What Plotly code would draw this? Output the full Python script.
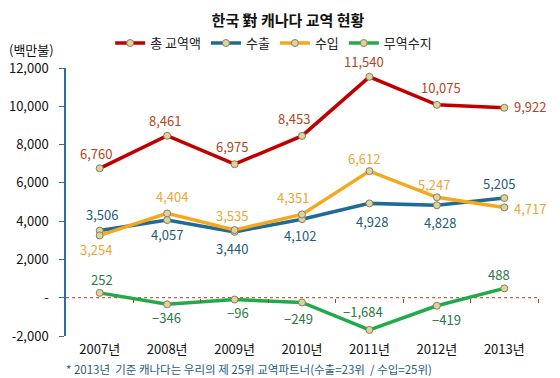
import plotly.graph_objects as go

years = ["2007년", "2008년", "2009년", "2010년", "2011년", "2012년", "2013년"]
total = [6760, 8461, 6975, 8453, 11540, 10075, 9922]
exports = [3506, 4057, 3440, 4102, 4928, 4828, 5205]
imports = [3254, 4404, 3535, 4351, 6612, 5247, 4717]
balance = [252, -346, -96, -249, -1684, -419, 488]
series_names = ["총 교역액", "수출", "수입", "무역수지"]
yticks = [-2000, 0, 2000, 4000, 6000, 8000, 10000, 12000]

FONT = "Noto Sans CJK KR, Noto Sans, sans-serif"

def fmt(v):
    return f"{v:,}".replace("-", "−")

def yfmt(v):
    return "-" if v == 0 else f"{v:,}"

line_colors = ["#C00000", "#1F6B96", "#F5A81C", "#22AA4A"]
label_colors = ["#B5451B", "#1F5C7A", "#EBA634", "#2B7A44"]
# label offsets (px): (dx right, dy down) from each point
label_offsets = [
    [(-4, -15), (-2, -15), (-3, -18), (-8, -17), (-5, -15), (4, -17), (26, -1)],
    [(2, -16), (0, 14), (-3, 17), (-2, 16), (3, 18), (3, 17), (-5, -15)],
    [(-4, 14), (5, -17), (-3, -15), (-9, -17), (-5, -13), (-3, -13), (26, 1)],
    [(2, -13), (-1, 13), (3, 13), (-4, 16), (-6, -18), (10, 14), (-5, -14)],
]

fig = go.Figure()
all_series = [total, exports, imports, balance]
for name, vals, lc in zip(series_names, all_series, line_colors):
    fig.add_trace(go.Scatter(
        x=years, y=vals, name=name, mode="lines+markers",
        line=dict(color=lc, width=3.5),
        marker=dict(size=7, color="#DCD3A0", line=dict(color="#8A7E58", width=1)),
        cliponaxis=False,
    ))

for vals, tc, offs in zip(all_series, label_colors, label_offsets):
    for xv, v, (dx, dy) in zip(years, vals, offs):
        fig.add_annotation(x=xv, y=v, text=fmt(v), showarrow=False, xanchor="center", yanchor="middle",
                           xshift=dx, yshift=-dy, font=dict(color=tc, size=13, family=FONT))

# invisible helper trace so the boundary-tick axis on the zero line is drawn
fig.add_trace(go.Scatter(x=[0.5], y=[0], xaxis="x2", yaxis="y", mode="markers",
                         marker=dict(opacity=0), showlegend=False, hoverinfo="skip"))

# zero line (dotted) across plot
fig.add_shape(type="line", xref="paper", x0=0, x1=1, yref="y", y0=0, y1=0,
              line=dict(color="#B0411E", width=1, dash="dot"), layer="below")

fig.update_layout(
    width=560, height=378,
    margin=dict(l=58, r=30, t=60, b=50, autoexpand=False),
    paper_bgcolor="white", plot_bgcolor="white",
    font=dict(family=FONT, size=12, color="#222"),
    title=dict(text="<b>한국 對 캐나다 교역 현황</b>", x=0.5, xref="container", xanchor="center",
               y=0.966, yanchor="middle", font=dict(size=15, color="#111")),
    legend=dict(orientation="h", x=0.44, xanchor="center", y=1.093, yanchor="middle",
                font=dict(size=13), bgcolor="rgba(0,0,0,0)"),
    showlegend=True,
    xaxis=dict(type="category", range=[-0.5, 6.5], showline=False, ticks="", showgrid=False,
               tickfont=dict(size=13, color="#111"), ticklabelstandoff=4, zeroline=False,
               automargin=False, tickangle=0),
    xaxis2=dict(type="linear", overlaying="x", anchor="free", position=1/7, range=[-0.5, 6.5],
                tickvals=[0.5, 1.5, 2.5, 3.5, 4.5, 5.5, 6.5], ticks="outside", ticklen=4,
                tickcolor="#B0411E", showticklabels=False, showline=False, showgrid=False,
                zeroline=False, automargin=False),
    yaxis=dict(range=[-2000, 12000], tickvals=yticks, ticktext=[yfmt(v) for v in yticks],
               showline=True, linecolor="#2E6E9E", linewidth=1.5, ticks="outside", ticklen=5,
               tickcolor="#2E6E9E", showgrid=False, zeroline=False, tickfont=dict(size=13, color="#111"),
               ticklabelstandoff=8, automargin=False),
)

fig.add_annotation(text="(백만불)", xref="paper", yref="paper", x=-0.125, y=1.07,
                   xanchor="left", yanchor="middle", showarrow=False, font=dict(size=13, color="#111"))
fig.add_annotation(text="* 2013년  기준 캐나다는 우리의 제 25위 교역파트너(수출=23위  / 수입=25위)",
                   xref="paper", yref="paper", x=-0.005, y=-0.122, xanchor="left", yanchor="middle",
                   showarrow=False, font=dict(size=11.5, color="#1F5C7A"))

fig.write_html("out.html")
